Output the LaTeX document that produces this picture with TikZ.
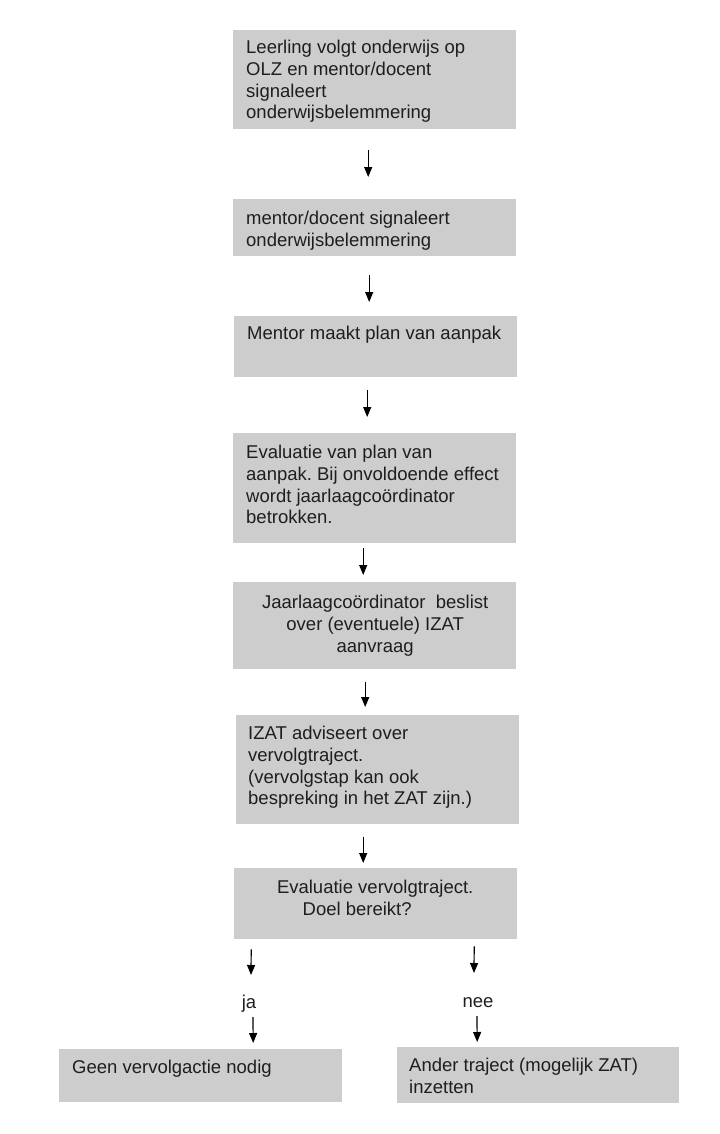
\documentclass[tikz,border=0pt]{standalone}
\usepackage{fontspec}
\setmainfont{Liberation Sans}
\usetikzlibrary{arrows.meta,calc}
\definecolor{boxgray}{RGB}{205,205,205}
\definecolor{txtcol}{RGB}{30,30,30}
\newcommand{\fstrut}{\rule{0pt}{17bp}}
\frenchspacing
\tikzset{
  box/.style={fill=boxgray, draw=none, inner sep=0pt, anchor=north west},
  txt/.style={inner sep=0pt, text=txtcol, align=left, font=\fontsize{18.5bp}{21.7bp}\selectfont},
  ctxt/.style={txt, align=center},
  arr/.style={draw=black, line width=1.2bp, -{Triangle[length=10bp,width=8bp]}}
}
\begin{document}
\begin{tikzpicture}[x=1bp,y=-1bp]
\useasboundingbox (0,0) rectangle (720,1134);
% boxes
\node[box, minimum width=283bp, minimum height=99bp] (b1) at (233,30) {};
\node[box, minimum width=283bp, minimum height=57bp] (b2) at (233,199) {};
\node[box, minimum width=283bp, minimum height=61bp] (b3) at (234,316) {};
\node[box, minimum width=283bp, minimum height=110bp] (b4) at (233,433) {};
\node[box, minimum width=283bp, minimum height=87bp] (b5) at (233,582) {};
\node[box, minimum width=283bp, minimum height=109bp] (b6) at (236,715) {};
\node[box, minimum width=283bp, minimum height=71bp] (b7) at (234,868) {};
\node[box, minimum width=283bp, minimum height=53bp] (b8) at (59,1049) {};
\node[box, minimum width=282bp, minimum height=56bp] (b9) at (397,1047) {};
% texts
\node[txt, anchor=north west] (t1) at ([shift={(13,6.5)}]b1.north west)
  {\fstrut Leerling volgt onderwijs op\\OLZ en mentor/docent\\signaleert\\onderwijsbelemmering};
\node[txt, anchor=north west] (t2) at ([shift={(13,8.5)}]b2.north west)
  {\fstrut mentor/docent signaleert\\onderwijsbelemmering};
\node[txt, anchor=north west] (t3) at ([shift={(13,6.5)}]b3.north west)
  {\fstrut Mentor maakt plan van aanpak};
\node[txt, anchor=north west] (t4) at ([shift={(13,8.5)}]b4.north west)
  {\fstrut Evaluatie van plan van\\aanpak. Bij onvoldoende effect\\wordt jaarlaagcoördinator\\betrokken.};
\node[ctxt, anchor=north] (t5) at ([shift={(0.5,9.5)}]b5.north)
  {\fstrut Jaarlaagcoördinator\ \ beslist\\over (eventuele) IZAT\\aanvraag};
\node[txt, anchor=north west] (t6) at ([shift={(12,7.5)}]b6.north west)
  {\fstrut IZAT adviseert over\\vervolgtraject.\\(vervolgstap kan ook\\bespreking in het ZAT zijn.)};
\node[ctxt, anchor=north] (t7) at ([shift={(-0.5,8.5)}]b7.north)
  {\fstrut Evaluatie vervolgtraject.\\\hspace*{-36bp}Doel bereikt?};
\node[txt, anchor=north west] (t8) at ([shift={(13,7.5)}]b8.north west)
  {\fstrut Geen vervolgactie nodig};
\node[txt, anchor=north west] (t9) at ([shift={(12,7.5)}]b9.north west)
  {\fstrut Ander traject (mogelijk ZAT)\\inzetten};
% labels
\node[ctxt] (ja) at (249,1004) {ja};
\node[ctxt] (nee) at (478,1003) {nee};
% arrows
\draw[arr] ([shift={(-6.5,21)}]b1.south) -- ([shift={(-6.5,-22)}]b2.north);
\draw[arr] ([shift={(-5.5,19)}]b2.south) -- ([shift={(-6.5,-14)}]b3.north);
\draw[arr] ([shift={(-8.5,13)}]b3.south) -- ([shift={(-7.5,-16)}]b4.north);
\draw[arr] ([shift={(-11.5,5)}]b4.south) -- ([shift={(-11.5,-7)}]b5.north);
\draw[arr] ([shift={(-9.5,13)}]b5.south) -- ([shift={(-12.5,-8)}]b6.north);
\draw[arr] ([shift={(-14.5,13)}]b6.south) -- ([shift={(-12.5,-5)}]b7.north);
\draw[arr] ([shift={(-124.5,10)}]b7.south) -- ([shift={(2,-29)}]ja.center);
\draw[arr] ([shift={(98.5,7)}]b7.south) -- ([shift={(-4,-30)}]nee.center);
\draw[arr] ([shift={(4,13)}]ja.center) -- ([shift={(52.5,-6)}]b8.north);
\draw[arr] ([shift={(-1,13)}]nee.center) -- ([shift={(-61,-5)}]b9.north);
\end{tikzpicture}
\end{document}
